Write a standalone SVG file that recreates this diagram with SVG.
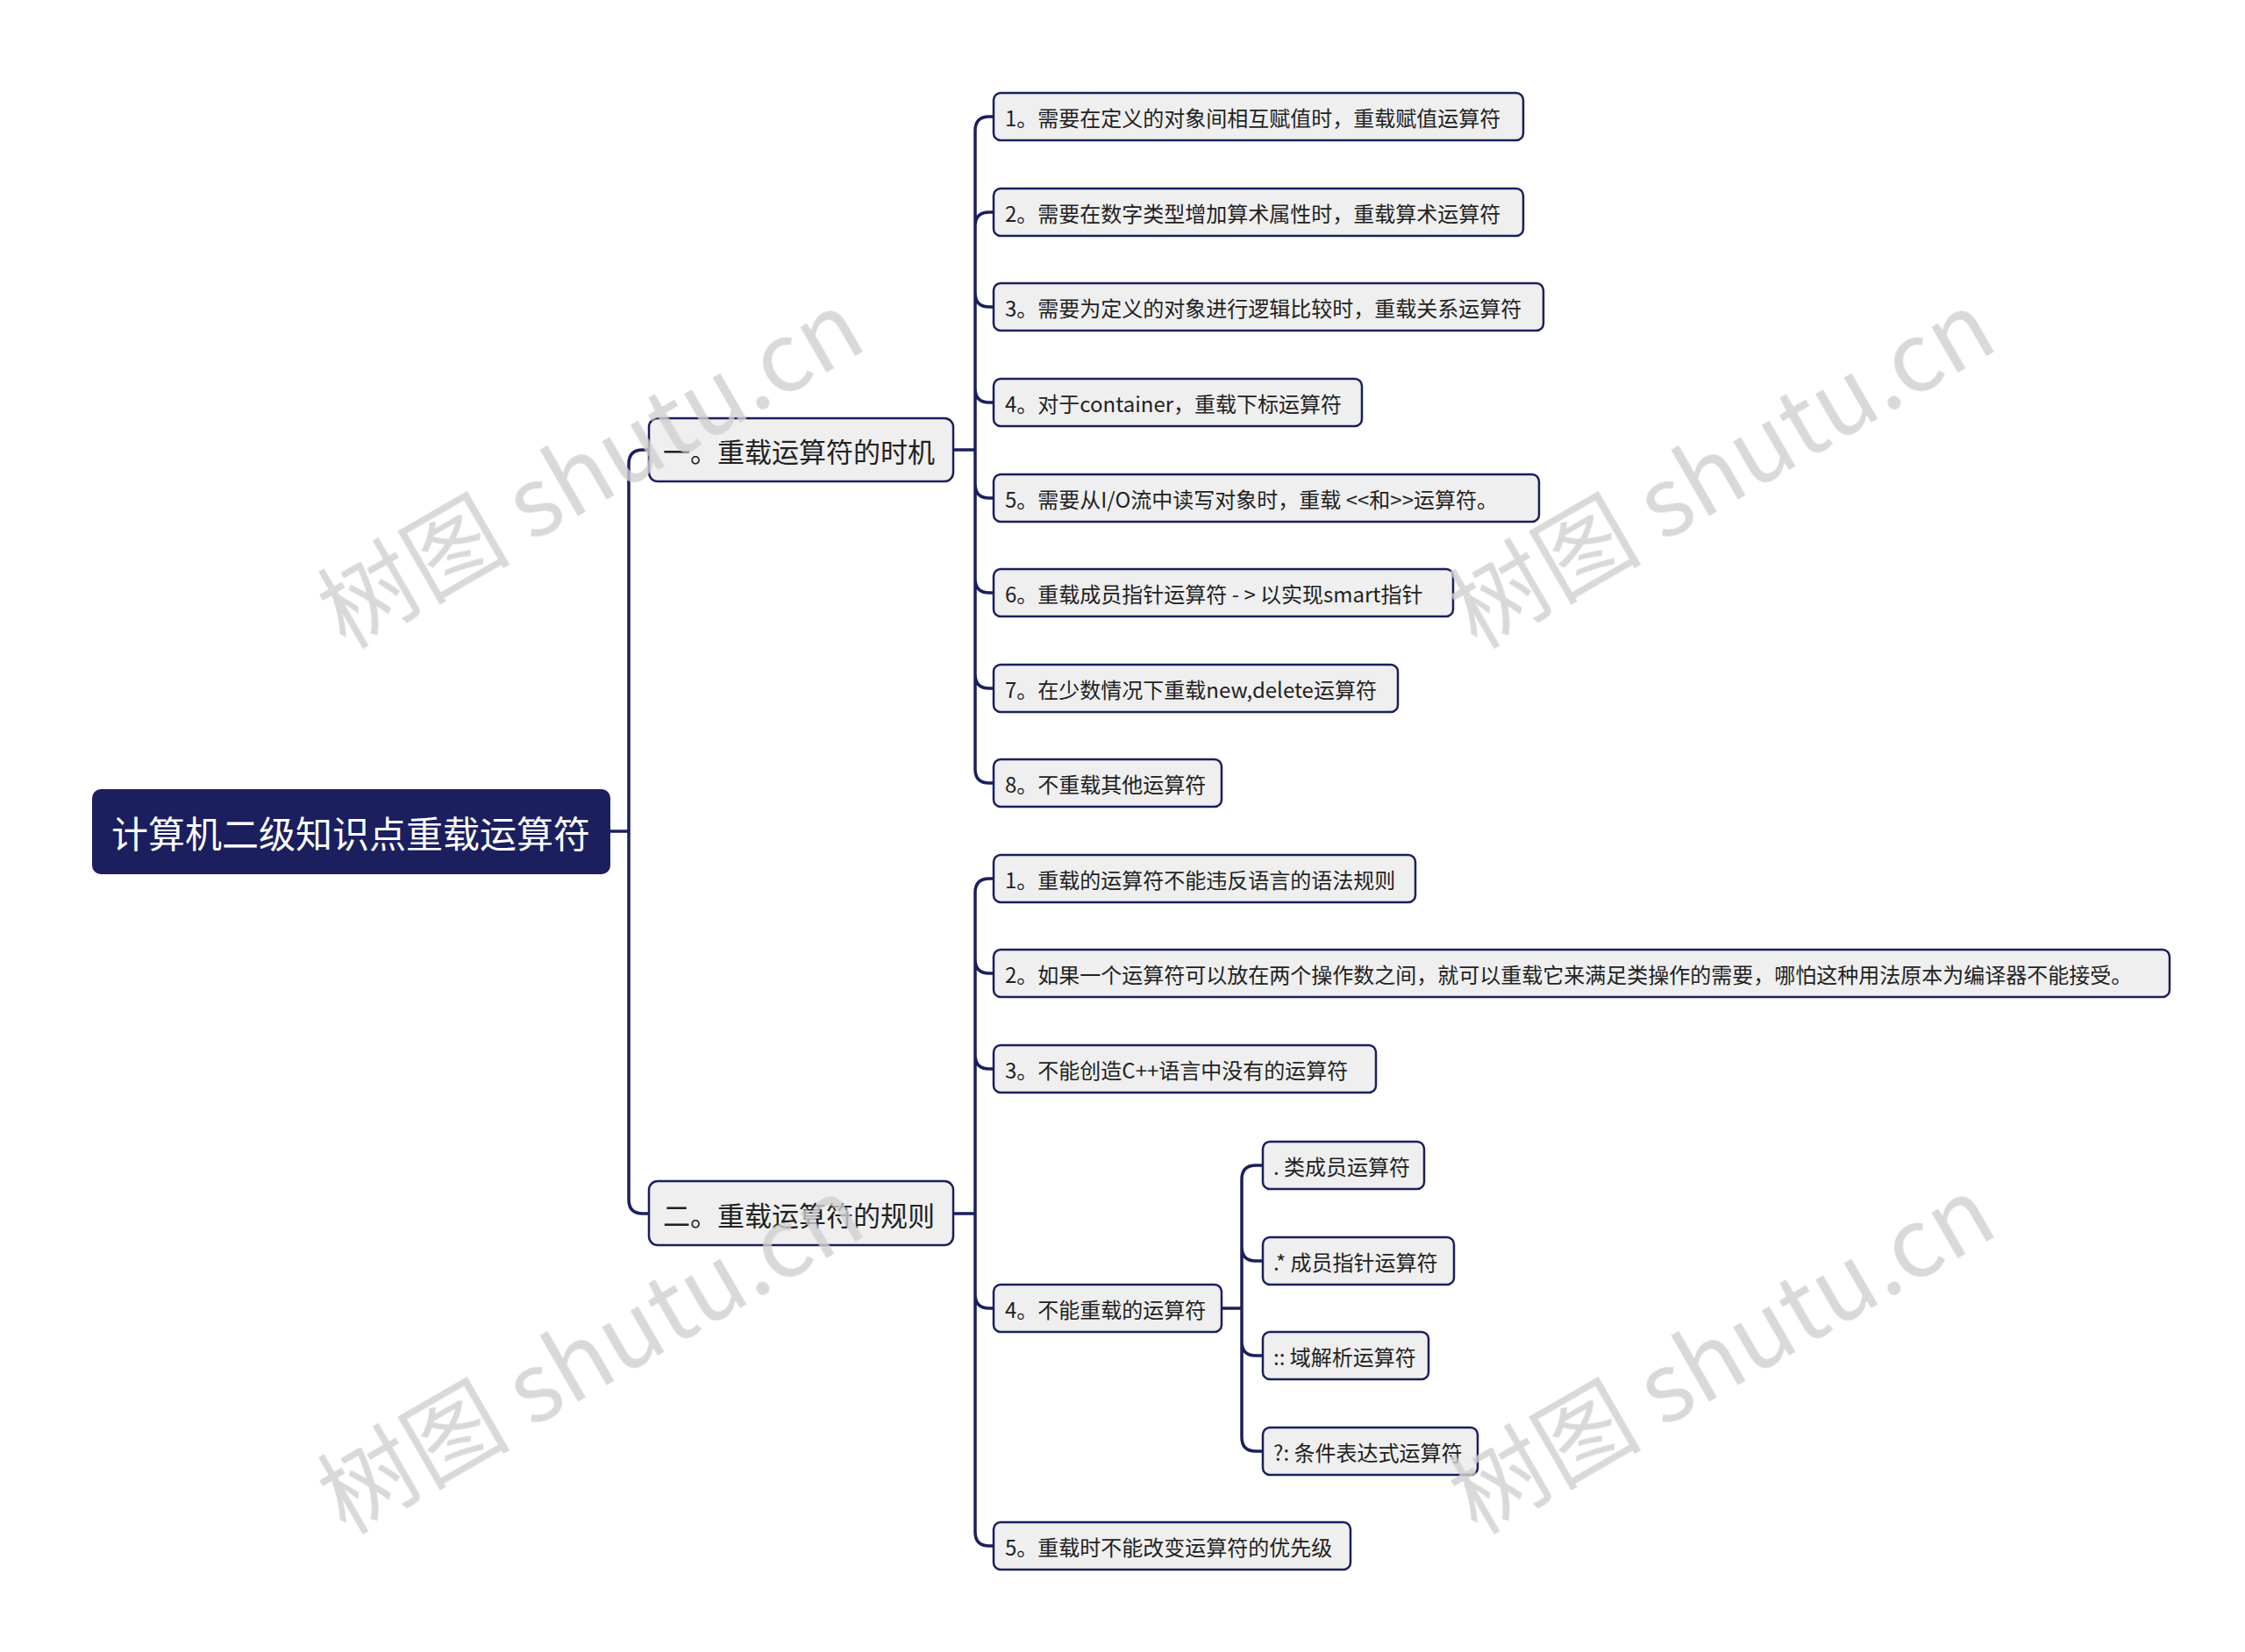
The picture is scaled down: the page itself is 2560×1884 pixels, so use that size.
<svg xmlns="http://www.w3.org/2000/svg" width="2560" height="1884" viewBox="0 0 2560 1884">
<style>
text{font-family:"Noto Sans CJK SC","Noto Sans",sans-serif;dominant-baseline:central}
.n rect{fill:#efefef;stroke:#1b1f5e;stroke-width:2.5}
.n text{font-size:24px;fill:#222}
.l1 text{font-size:31px}
.c path{fill:none;stroke:#1b1f5e;stroke-width:3.5}
.wm{font-family:"Liberation Serif",serif;font-size:110px;fill:#d0d0d0;opacity:0.8}
</style>
<rect width="2560" height="1884" fill="#fff"/>
<g class="c">
<path d="M696,948 H717 M717,948 V529 Q717,513 733,513 H740 M717,948 V1368 Q717,1384 733,1384 H740"/>
<path d="M1087,513 H1112 M1112,513 V149 Q1112,133 1128,133 H1133 M1112,242 Q1112,226 1112,226 M1112,226 V258 Q1112,242 1128,242 H1133 M1112,334 Q1112,350 1128,350 H1133 M1112,443 Q1112,459 1128,459 H1133 M1112,552 Q1112,568 1128,568 H1133 M1112,660 Q1112,676 1128,676 H1133 M1112,513 V877 Q1112,893 1128,893 H1133 M1112,769 Q1112,785 1128,785 H1133"/>
<path d="M1087,1384 H1112 M1112,1384 V1018 Q1112,1002 1128,1002 H1133 M1112,1094 Q1112,1110 1128,1110 H1133 M1112,1203 Q1112,1219 1128,1219 H1133 M1112,1476 Q1112,1492 1128,1492 H1133 M1112,1384 V1747 Q1112,1763 1128,1763 H1133"/>
<path d="M1393,1492 H1416 M1416,1492 V1345 Q1416,1329 1432,1329 H1440 M1416,1422 Q1416,1438 1432,1438 H1440 M1416,1492 V1639 Q1416,1655 1432,1655 H1440 M1416,1530 Q1416,1546 1432,1546 H1440"/>
</g>
<g id="root"><rect x="105" y="900" width="591" height="97" rx="10" fill="#1b1f5e"/><text x="400" y="948" text-anchor="middle" font-size="42" fill="#fff">计算机二级知识点重载运算符</text></g>
<g id="b1" class="n l1"><rect x="740" y="477" width="347" height="72" rx="10"/><text x="756" y="513">一。重载运算符的时机</text></g>
<g id="b2" class="n l1"><rect x="740" y="1347" width="347" height="73" rx="10"/><text x="756" y="1384">二。重载运算符的规则</text></g>
<g id="a1" class="n"><rect x="1133" y="106" width="604" height="54" rx="8"/><text x="1146" y="133">1。需要在定义的对象间相互赋值时，重载赋值运算符</text></g>
<g id="a2" class="n"><rect x="1133" y="215" width="604" height="54" rx="8"/><text x="1146" y="242">2。需要在数字类型增加算术属性时，重载算术运算符</text></g>
<g id="a3" class="n"><rect x="1133" y="323" width="627" height="54" rx="8"/><text x="1146" y="350">3。需要为定义的对象进行逻辑比较时，重载关系运算符</text></g>
<g id="a4" class="n"><rect x="1133" y="432" width="420" height="54" rx="8"/><text x="1146" y="459">4。对于container，重载下标运算符</text></g>
<g id="a5" class="n"><rect x="1133" y="541" width="622" height="54" rx="8"/><text x="1146" y="568">5。需要从I/O流中读写对象时，重载 &lt;&lt;和&gt;&gt;运算符。</text></g>
<g id="a6" class="n"><rect x="1133" y="649" width="524" height="54" rx="8"/><text x="1146" y="676">6。重载成员指针运算符 - &gt; 以实现smart指针</text></g>
<g id="a7" class="n"><rect x="1133" y="758" width="461" height="54" rx="8"/><text x="1146" y="785">7。在少数情况下重载new,delete运算符</text></g>
<g id="a8" class="n"><rect x="1133" y="866" width="260" height="54" rx="8"/><text x="1146" y="893">8。不重载其他运算符</text></g>
<g id="r1" class="n"><rect x="1133" y="975" width="481" height="54" rx="8"/><text x="1146" y="1002">1。重载的运算符不能违反语言的语法规则</text></g>
<g id="r2" class="n"><rect x="1133" y="1083" width="1341" height="54" rx="8"/><text x="1146" y="1110">2。如果一个运算符可以放在两个操作数之间，就可以重载它来满足类操作的需要，哪怕这种用法原本为编译器不能接受。</text></g>
<g id="r3" class="n"><rect x="1133" y="1192" width="436" height="54" rx="8"/><text x="1146" y="1219">3。不能创造C++语言中没有的运算符</text></g>
<g id="r4" class="n"><rect x="1133" y="1465" width="260" height="54" rx="8"/><text x="1146" y="1492">4。不能重载的运算符</text></g>
<g id="r5" class="n"><rect x="1133" y="1736" width="407" height="54" rx="8"/><text x="1146" y="1763">5。重载时不能改变运算符的优先级</text></g>
<g id="s1" class="n"><rect x="1440" y="1302" width="184" height="54" rx="8"/><text x="1452" y="1329">. 类成员运算符</text></g>
<g id="s2" class="n"><rect x="1440" y="1411" width="218" height="54" rx="8"/><text x="1452" y="1438">.* 成员指针运算符</text></g>
<g id="s3" class="n"><rect x="1440" y="1519" width="189" height="54" rx="8"/><text x="1452" y="1546">:: 域解析运算符</text></g>
<g id="s4" class="n"><rect x="1440" y="1628" width="245" height="54" rx="8"/><text x="1452" y="1655">?: 条件表达式运算符</text></g>
<g class="wm">
<text transform="translate(370,700) rotate(-30)" x="0" y="0">树图 shutu.cn</text>
<text transform="translate(1660,700) rotate(-30)" x="0" y="0">树图 shutu.cn</text>
<text transform="translate(370,1710) rotate(-30)" x="0" y="0">树图 shutu.cn</text>
<text transform="translate(1660,1710) rotate(-30)" x="0" y="0">树图 shutu.cn</text>
</g>
</svg>
